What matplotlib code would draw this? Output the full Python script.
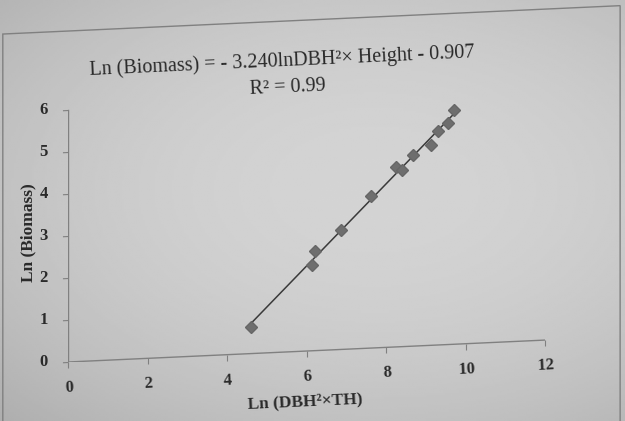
import numpy as np
import matplotlib
matplotlib.use('Agg')
import matplotlib.pyplot as plt
from matplotlib.patches import Rectangle
from matplotlib.transforms import Affine2D
from mpl_toolkits.axisartist import floating_axes
from mpl_toolkits.axisartist.grid_finder import FixedLocator

# ln(DBH^2 x TH) against ln(biomass) for the sampled trees
ln_dbh2_th = [4.60, 6.15, 6.21, 6.87, 7.62, 8.24, 8.39, 8.69, 9.13, 9.30, 9.57, 9.72]
ln_biomass = [0.64, 2.04, 2.37, 2.84, 3.63, 4.29, 4.20, 4.55, 4.77, 5.10, 5.27, 5.58]

x_ticks = [0, 2, 4, 6, 8, 10, 12]
y_ticks = [0, 1, 2, 3, 4, 5, 6]

equation = 'Ln (Biomass) = - 3.240lnDBH\u00b2\u00d7 Height - 0.907'
r_squared = 'R\u00b2 = 0.99'
xlabel = 'Ln (DBH\u00b2\u00d7TH)'
ylabel = 'Ln (Biomass)'

W, H = 625, 421
SHEAR = 0.0435          # y units gained per x unit (page photographed at an angle)
ANGLE = np.degrees(np.arctan(0.046))
INK = '#2a2a2a'
AXIS = '#808080'


def paper_background(fig):
    """Grey paper tone, brightest right of centre and darker towards the edges."""
    bg = fig.add_axes([0, 0, 1, 1], zorder=-10)
    yy, xx = np.mgrid[0:1:200j, 0:1:300j]
    r2 = ((xx - 0.6) / 1.0) ** 2 + ((yy - 0.45) / 0.9) ** 2
    shade = 0.83 - 0.2 * r2
    bg.imshow(shade, cmap='gray', vmin=0, vmax=1, extent=(0, 1, 0, 1),
              aspect='auto', origin='upper', interpolation='bilinear')
    bg.set_axis_off()


def plot_regression(xs, ys):
    plt.rcParams['font.family'] = 'Liberation Serif'
    fig = plt.figure(figsize=(W / 100, H / 100), dpi=100)
    paper_background(fig)

    tr = Affine2D().skew(0, np.arctan(SHEAR))
    helper = floating_axes.GridHelperCurveLinear(
        tr, extremes=(x_ticks[0], x_ticks[-1], y_ticks[0], y_ticks[-1]),
        grid_locator1=FixedLocator(x_ticks),
        grid_locator2=FixedLocator(y_ticks))

    top = y_ticks[-1] + x_ticks[-1] * SHEAR
    rect = [68 / W, 59 / H, 477 / W, 42 * top / H]
    ax = fig.add_axes(rect, axes_class=floating_axes.FloatingAxes,
                      grid_helper=helper)
    ax.set_aspect('auto')
    ax.set_xlim(x_ticks[0], x_ticks[-1])
    ax.set_ylim(0, top)
    ax.patch.set_facecolor('none')

    for side in ('top', 'right'):
        ax.axis[side].set_visible(False)
    for side in ('left', 'bottom'):
        a = ax.axis[side]
        a.line.set_color(AXIS)
        a.line.set_linewidth(1.0)
        a.major_ticks.set_tick_out(True)
        a.major_ticks.set_ticksize(4)
        a.major_ticks.set_color(AXIS)
        a.major_ticklabels.set_fontsize(12)
        a.major_ticklabels.set_fontweight('bold')
        a.major_ticklabels.set_color(INK)
    ax.axis['left'].major_ticklabels.set_pad(10)
    ax.axis['bottom'].major_ticklabels.set_pad(8)

    aux = ax.get_aux_axes(tr)

    # chart area frame
    aux.add_patch(Rectangle((-1.64, -4), 15.53, 11.88, fill=False,
                            edgecolor='#808080', linewidth=1.0, clip_on=False))

    # linear trend line over the sampled range
    slope, icpt = np.polyfit(xs, ys, 1)
    fx = np.array([min(xs), max(xs)])
    aux.plot(fx, slope * fx + icpt, color='#3a3a3a', linewidth=1.1, zorder=3)
    aux.plot(xs, ys, linestyle='none', marker='D', markersize=6.5,
             markerfacecolor='#6e6e6e', markeredgecolor='#666666', zorder=4)

    fig.text(282 / W, 1 - 61 / H, equation, fontsize=14.5, color=INK,
             ha='center', va='center', rotation=ANGLE, rotation_mode='anchor')
    fig.text(288 / W, 1 - 88 / H, r_squared, fontsize=14.5, color=INK,
             ha='center', va='center', rotation=ANGLE, rotation_mode='anchor')
    fig.text(28 / W, 1 - 233 / H, ylabel, fontsize=12.5, fontweight='bold',
             color=INK, ha='center', va='center', rotation=90)
    fig.text(305 / W, 1 - 402 / H, xlabel, fontsize=12.5, fontweight='bold',
             color=INK, ha='center', va='center', rotation=ANGLE,
             rotation_mode='anchor')

    fig.savefig('out.png', dpi=100)
    plt.close(fig)


if __name__ == '__main__':
    plot_regression(ln_dbh2_th, ln_biomass)
